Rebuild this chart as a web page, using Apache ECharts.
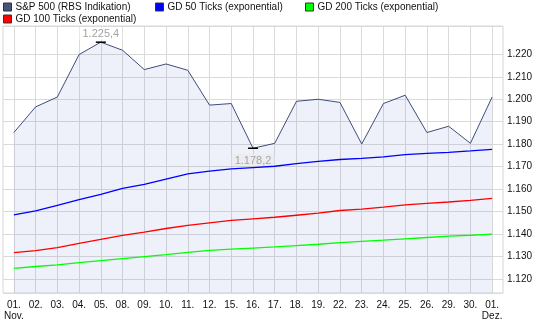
<!DOCTYPE html>
<html>
<head>
<meta charset="utf-8">
<script src="https://cdn.jsdelivr.net/npm/echarts@6/dist/echarts.min.js"></script>
<style>
  html, body { margin: 0; padding: 0; background: #fff; }
  #chart { width: 545px; height: 327px; }
</style>
</head>
<body>
<div id="chart"></div>
<script>
// Trading days, November to 1 December
const categories = ['01.\nNov.', '02.', '03.', '04.', '05.', '08.', '09.', '10.', '11.', '12.',
  '15.', '16.', '17.', '18.', '19.', '22.', '23.', '24.', '25.', '26.', '29.', '30.', '01.\nDez.'];

// S&P 500 (RBS indication)
const spx = [1185.2, 1196.6, 1201.0, 1219.9, 1225.4, 1221.8, 1213.2, 1215.7, 1212.9, 1197.4,
  1198.1, 1178.2, 1180.4, 1199.1, 1200.0, 1198.6, 1180.1, 1198.1, 1201.8, 1185.2,
  1188.0, 1180.4, 1201.0];

// Exponential moving averages
const gd50 = [1148.6, 1150.3, 1152.8, 1155.3, 1157.7, 1160.4, 1162.1, 1164.5, 1166.8, 1168.0,
  1169.0, 1169.6, 1170.2, 1171.4, 1172.4, 1173.2, 1173.7, 1174.4, 1175.4, 1175.9,
  1176.4, 1177.0, 1177.7];
const gd100 = [1131.8, 1132.7, 1134.0, 1135.9, 1137.7, 1139.4, 1140.9, 1142.5, 1143.9, 1145.0,
  1146.1, 1146.8, 1147.5, 1148.4, 1149.3, 1150.5, 1151.1, 1152.0, 1153.0, 1153.7,
  1154.3, 1155.0, 1155.9];
const gd200 = [1124.8, 1125.6, 1126.3, 1127.3, 1128.2, 1129.1, 1130.0, 1130.9, 1131.9, 1132.8,
  1133.3, 1133.8, 1134.3, 1134.9, 1135.5, 1136.2, 1136.8, 1137.3, 1137.9, 1138.5,
  1139.1, 1139.5, 1140.0];

// Value-axis range and the highest labelled tick
const yMin = 1113.8;
const yMax = 1232.6;
const yTopLabel = 1220;

const seriesNames = ['S&P 500 (RBS Indikation)', 'GD 50 Ticks (exponential)',
  'GD 100 Ticks (exponential)', 'GD 200 Ticks (exponential)'];
const seriesColors = ['#46547e', '#0000ff', '#ff0000', '#00ff00'];

// German number formatting: 1.225,4
function de(v, digits) {
  const parts = v.toFixed(digits).split('.');
  const intPart = parts[0].replace(/\B(?=(\d{3})+(?!\d))/g, '.');
  return parts.length > 1 ? intPart + ',' + parts[1] : intPart;
}

const FONT = 'Liberation Sans, Arial, sans-serif';
const GRID_COLOR = '#dadada';
const NONE = 'rgba(0,0,0,0)';

// Horizontal grid colours, one per tick from the bottom edge up:
// edge, 1120 ... 1220, (unlabelled 1230 hidden), edge
const hLineColors = [GRID_COLOR, GRID_COLOR, GRID_COLOR, GRID_COLOR, GRID_COLOR, GRID_COLOR,
  GRID_COLOR, GRID_COLOR, GRID_COLOR, GRID_COLOR, GRID_COLOR, GRID_COLOR, NONE, GRID_COLOR];

// Mark the highest and lowest close with a value label
const hiIdx = spx.indexOf(Math.max.apply(null, spx));
const loIdx = spx.indexOf(Math.min.apply(null, spx));
const spxData = spx.map(function (v, i) {
  if (i !== hiIdx && i !== loIdx) return v;
  return {
    value: v,
    symbol: 'rect',
    symbolSize: [10, 1.5],
    itemStyle: { color: '#000' },
    label: {
      show: true,
      position: i === hiIdx ? 'top' : 'bottom',
      distance: i === hiIdx ? 2 : 5,
      formatter: function (p) { return de(p.value, 1); },
      color: '#a4a4a4',
      fontFamily: FONT,
      fontSize: 11,
      lineHeight: 11,
      backgroundColor: i === hiIdx ? 'rgba(255,255,255,0.8)' : 'rgba(236,236,238,0.85)',
      padding: [1, 3, 0, 3]
    }
  };
});

function legendAt(name, left, top) {
  return {
    data: [name],
    left: left,
    top: top,
    padding: 0,
    icon: 'rect',
    itemWidth: 8,
    itemHeight: 8,
    itemStyle: { borderColor: '#333', borderWidth: 1 },
    textStyle: { fontFamily: FONT, fontSize: 10, color: '#111', padding: [0, 0, 0, -1] },
    selectedMode: false
  };
}

// Vertical day lines: a helper axis measured in half-day steps across the plot,
// drawing only the odd steps, which fall on the centre of each trading day.
const halfSteps = categories.length * 2;
const dayLineColors = [NONE, GRID_COLOR];

const chart = echarts.init(document.getElementById('chart'), null, { renderer: 'canvas' });
chart.setOption({
  animation: false,
  legend: [
    legendAt(seriesNames[0], 3, 2),
    legendAt(seriesNames[1], 155, 2),
    legendAt(seriesNames[3], 305, 2),
    legendAt(seriesNames[2], 3, 14)
  ],
  grid: {
    left: 3, right: 42, top: 26, bottom: 34,
    show: true, borderColor: '#d6d6d6', borderWidth: 1
  },
  xAxis: [
    {
      type: 'category',
      data: categories,
      boundaryGap: true,
      axisLine: { show: false },
      axisTick: { show: false },
      splitLine: { show: false },
      axisLabel: {
        interval: 0, margin: 7, fontFamily: FONT, fontSize: 10, color: '#111', lineHeight: 11
      }
    },
    {
      type: 'value',
      position: 'top',
      min: 0,
      max: halfSteps,
      interval: 1,
      axisLine: { show: false },
      axisTick: { show: false },
      axisLabel: { show: false },
      splitLine: { show: true, lineStyle: { color: dayLineColors, width: 1 } }
    }
  ],
  yAxis: {
    type: 'value',
    position: 'right',
    min: yMin,
    max: yMax,
    splitNumber: 12,
    axisLine: { show: false },
    axisTick: { show: false },
    splitLine: { show: true, lineStyle: { color: hLineColors, width: 1 } },
    axisLabel: {
      showMinLabel: false, showMaxLabel: false,
      margin: 4, fontFamily: FONT, fontSize: 10, color: '#111',
      formatter: function (v) { return v > yTopLabel ? '' : de(v, 0); }
    }
  },
  series: [
    {
      name: seriesNames[0], type: 'line', data: spxData,
      color: seriesColors[0],
      symbol: 'none', showSymbol: true,
      lineStyle: { color: '#3e4c7a', width: 1 },
      // translucent fill so the grid stays visible underneath
      areaStyle: { color: 'rgb(85,115,205)', opacity: 0.1, origin: 'start' },
      z: 2
    },
    {
      name: seriesNames[1], type: 'line', data: gd50, color: seriesColors[1],
      showSymbol: false, lineStyle: { width: 1.3 }, z: 3
    },
    {
      name: seriesNames[2], type: 'line', data: gd100, color: seriesColors[2],
      showSymbol: false, lineStyle: { width: 1.3 }, z: 3
    },
    {
      name: seriesNames[3], type: 'line', data: gd200, color: seriesColors[3],
      showSymbol: false, lineStyle: { width: 1.3 }, z: 3
    }
  ]
});
</script>
</body>
</html>
